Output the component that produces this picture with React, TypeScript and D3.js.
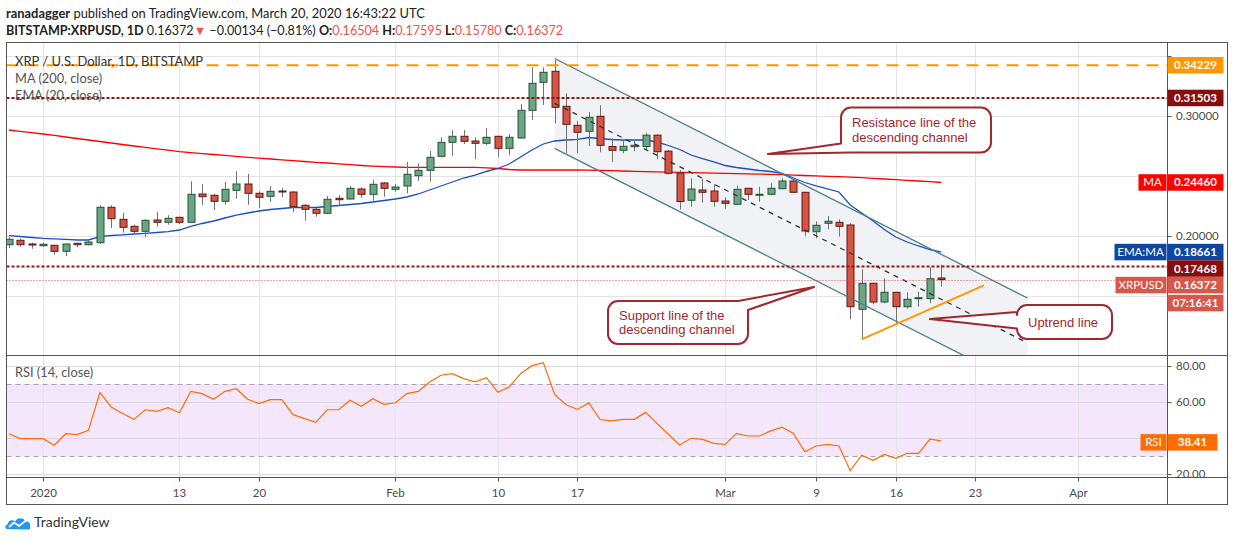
import React from 'react';
import * as d3 from 'd3';

// ---------- DATA ----------
const firstBar = '2019-12-29'; // daily bars, Dec 29 2019 .. Mar 20 2020
const opens = [
  0.19275, 0.19642, 0.19333,
  0.19192, 0.19225, 0.18725, 0.19392, 0.19275, 0.19442, 0.22392, 0.21392, 0.20808, 0.20392,
  0.21333, 0.21142, 0.21558, 0.21142, 0.235, 0.23392, 0.22892, 0.23808, 0.24333, 0.23558,
  0.23308, 0.2375, 0.23667, 0.22558, 0.22225, 0.21892, 0.23142, 0.23083, 0.23917, 0.23475, 0.24417,
  0.23892, 0.24167, 0.25025, 0.25475, 0.26642, 0.27808, 0.28308, 0.27917, 0.27725, 0.28308,
  0.27308, 0.28167, 0.30475, 0.32808, 0.33725, 0.30808, 0.29225, 0.28725, 0.29975, 0.27458,
  0.27142, 0.27442, 0.27458, 0.284, 0.27067, 0.2525, 0.22975, 0.23833, 0.2375,
  0.22917, 0.22642, 0.23975, 0.23442, 0.23475, 0.23942, 0.24583, 0.23642, 0.20358, 0.21058,
  0.21142, 0.20917, 0.13892, 0.16058, 0.145, 0.15308, 0.14108, 0.14808, 0.14775, 0.16504,
];
const highs = [
  0.19892, 0.19775, 0.19442,
  0.19442, 0.19275, 0.19392, 0.19442, 0.19725, 0.22558, 0.22558, 0.21942, 0.20942, 0.21392,
  0.22, 0.21725, 0.21608, 0.24558, 0.24333, 0.235, 0.245, 0.25392, 0.25167, 0.23725,
  0.24167, 0.24, 0.23725, 0.22667, 0.22333, 0.23333, 0.23417, 0.24167, 0.24058, 0.24667, 0.245,
  0.24333, 0.26167, 0.26058, 0.27083, 0.28225, 0.28833, 0.28833, 0.28225, 0.28975, 0.2835,
  0.285, 0.31, 0.34058, 0.34058, 0.34667, 0.31892, 0.29608, 0.30333, 0.30892, 0.28142,
  0.27975, 0.27975, 0.28583, 0.285, 0.27167, 0.255, 0.24808, 0.24775, 0.24308,
  0.23225, 0.24192, 0.24, 0.24108, 0.24392, 0.24808, 0.24725, 0.23667, 0.21225, 0.21667,
  0.21392, 0.21058, 0.17225, 0.16108, 0.16475, 0.1535, 0.15308, 0.15358, 0.17392, 0.17595,
];
const lows = [
  0.19, 0.19108, 0.18942,
  0.19108, 0.18442, 0.18333, 0.19058, 0.19225, 0.19333, 0.20667, 0.20275, 0.20167, 0.19942,
  0.20775, 0.20942, 0.21, 0.211, 0.22558, 0.22167, 0.22608, 0.23108, 0.22608, 0.22333,
  0.22858, 0.23225, 0.22, 0.21275, 0.21608, 0.21833, 0.225, 0.23058, 0.23192, 0.22942, 0.23275,
  0.23692, 0.23558, 0.24583, 0.24525, 0.2655, 0.26692, 0.27667, 0.26392, 0.27558, 0.26608,
  0.26725, 0.281, 0.29667, 0.30917, 0.29392, 0.26892, 0.26892, 0.275, 0.26975, 0.26167,
  0.26892, 0.27058, 0.27208, 0.26392, 0.25125, 0.22208, 0.22442, 0.22775, 0.22442,
  0.22275, 0.22583, 0.23, 0.22858, 0.23392, 0.23892, 0.23558, 0.2, 0.19808, 0.20558,
  0.19942, 0.13058, 0.11392, 0.14308, 0.14392, 0.12775, 0.13942, 0.14108, 0.14392, 0.1578,
];
const closes = [
  0.19725, 0.19275, 0.1925,
  0.19308, 0.18725, 0.19333, 0.19275, 0.195, 0.22392, 0.21442, 0.20725, 0.20392, 0.21308,
  0.21142, 0.21475, 0.21142, 0.23475, 0.23275, 0.22892, 0.23892, 0.24333, 0.23558, 0.23225,
  0.23725, 0.23692, 0.22442, 0.22225, 0.21892, 0.23058, 0.23025, 0.23975, 0.23475, 0.24308, 0.23975,
  0.24083, 0.25142, 0.25475, 0.26558, 0.27808, 0.28308, 0.27892, 0.27725, 0.28225, 0.27308,
  0.28225, 0.30475, 0.32725, 0.33642, 0.30725, 0.29308, 0.28642, 0.29892, 0.27558, 0.27142,
  0.27475, 0.27558, 0.284, 0.27025, 0.25225, 0.22875, 0.23917, 0.23642, 0.22892,
  0.22725, 0.23892, 0.23475, 0.23475, 0.23975, 0.24583, 0.23642, 0.20417, 0.20892, 0.21225,
  0.20808, 0.14108, 0.16058, 0.145, 0.15308, 0.14108, 0.14725, 0.14858, 0.16442, 0.16372,
];
const ema20 = [
  0.20025, 0.19958, 0.19875,
  0.19808, 0.19767, 0.19717, 0.19667, 0.19667, 0.19942, 0.20042, 0.201, 0.20167, 0.20225,
  0.20292, 0.20358, 0.205, 0.20792, 0.21042, 0.2125, 0.215, 0.21733, 0.21917, 0.22083,
  0.22208, 0.22292, 0.22375, 0.22375, 0.22375, 0.22458, 0.22542, 0.22625, 0.22708, 0.22833, 0.22958,
  0.23083, 0.2325, 0.235, 0.23833, 0.24167, 0.245, 0.24833, 0.25083, 0.25375, 0.25625,
  0.26, 0.26583, 0.27167, 0.27667, 0.27917, 0.28, 0.28058, 0.28208, 0.28125, 0.28042,
  0.28, 0.28, 0.28, 0.27833, 0.27542, 0.27208, 0.2675, 0.26458, 0.26167,
  0.25875, 0.25708, 0.25583, 0.25458, 0.25375, 0.25225, 0.24833, 0.24458, 0.24167, 0.23917,
  0.23667, 0.22583, 0.21917, 0.2125, 0.20542, 0.19917, 0.195, 0.19167, 0.18875, 0.18661,
];
const ma200 = [
  0.28834, 0.28725, 0.28609,
  0.285, 0.28384, 0.2825, 0.28125, 0.28, 0.27875, 0.2775, 0.27625, 0.275, 0.27384,
  0.27267, 0.2715, 0.27034, 0.2695, 0.26867, 0.26792, 0.26717, 0.26642, 0.26559, 0.26484,
  0.26417, 0.2635, 0.26275, 0.26209, 0.26142, 0.26084, 0.26017, 0.25942, 0.25875, 0.25817, 0.25775,
  0.2575, 0.25725, 0.25725, 0.25725, 0.25725, 0.25725, 0.25725, 0.25725, 0.25684, 0.25625,
  0.25542, 0.255, 0.255, 0.255, 0.255, 0.255, 0.255, 0.25484, 0.25459, 0.25442,
  0.25417, 0.25392, 0.25367, 0.25342, 0.25325, 0.25309, 0.25284, 0.25267, 0.25242,
  0.25225, 0.252, 0.25175, 0.25159, 0.25134, 0.25109, 0.25075, 0.25042, 0.25009, 0.24975,
  0.24942, 0.24909, 0.24867, 0.24809, 0.2475, 0.247, 0.24642, 0.24584, 0.24525, 0.2446,
];
const rsi14 = [
  42.38, 39.65, 39.65,
  39.65, 35.96, 42.38, 41.89, 44.22, 65.22, 57.25, 53.56, 50.35, 55.69,
  54.82, 56.86, 54.04, 65.9, 64.64, 61.53, 65.9, 67.36, 61.53, 59.1,
  61.33, 61.33, 52.97, 50.74, 48.69, 55.69, 55.69, 60.94, 57.64, 61.82, 58.71,
  59.58, 64.64, 65.9, 71.15, 74.85, 75.72, 73.0, 71.25, 73.49, 65.42,
  68.33, 75.72, 80.19, 81.85, 64.25, 58.51, 55.89, 59.49, 50.25, 49.47,
  50.35, 50.35, 54.24, 48.11, 42.08, 36.15, 39.85, 39.26, 37.03,
  36.45, 42.57, 41.11, 41.11, 43.93, 45.97, 42.57, 32.36, 35.57, 36.45,
  35.57, 21.86, 30.42, 27.6, 30.9, 28.67, 31.49, 31.49, 39.3, 38.41,
];

const priceTicks = [0.15, 0.2, 0.25, 0.3, 0.35];
const rsiTicks = [20, 40, 60, 80];
const tickDates = ['2020-01-01', '2020-01-13', '2020-01-20', '2020-02-01', '2020-02-10', '2020-02-17', '2020-03-01', '2020-03-09', '2020-03-16', '2020-03-23', '2020-04-01'];
const tickLabels = ['2020', '13', '20', 'Feb', '10', '17', 'Mar', '9', '16', '23', 'Apr'];

const athLevel = 0.34229;
const redLevels = [0.31503, 0.17468];
const lastClose = 0.16372;
const maLast = 0.2446;
const emaLast = 0.18661;
const rsiLast = 38.41;

const channelDates = ['2020-02-15T00:00:00Z', '2020-03-27T14:00:00Z'];
const channelUpper = [0.34792, 0.14833];
const channelLower = [0.27308, 0.07349];
const uptrendDates = ['2020-03-13T00:00:00Z', '2020-03-23T18:00:00Z'];
const uptrendPrices = [0.11392, 0.15892];

const calloutTips = [
  { date: '2020-03-04T18:00:00Z', price: 0.26834 }, // resistance
  { date: '2020-03-08T19:30:00Z', price: 0.1575 },  // support
  { date: '2020-03-19T00:00:00Z', price: 0.13084 }, // uptrend
];

// ---------- LAYOUT ----------
const W = 1234, H = 541;
const L = 6.5, PR = 1167.5, RR = 1227.5;
const T = 42.5, PB = 355.5, RB = 477.5, AB = 504.5;
const DAY = 86400000;
const FONT = 'Lato, "Open Sans", sans-serif';
const CALLOUT_FONT = '"Liberation Sans", Arial, sans-serif';

const parse = (s: string) => new Date(s.length === 10 ? s + 'T00:00:00Z' : s);
const base = parse(firstBar).getTime();
const dates = opens.map((_, i) => new Date(base + i * DAY));
const jan1 = parse('2020-01-01').getTime();

const x = d3.scaleUtc().domain([new Date(jan1 - 3.21 * DAY), new Date(jan1 + 98.9 * DAY)]).range([L, PR]);
const y = d3.scaleLinear().domain([0.30 - (PB - 116) / 1200, 0.30 + (116 - T) / 1200]).range([PB, T]);
const yr = d3.scaleLinear().domain([80 - (RB - 366) / 1.8, 80 + (366 - PB) / 1.8]).range([RB, PB]);

const fmt5 = d3.format('.5f');

const UP_FILL = '#6ba583', UP_LINE = '#225437', DN_FILL = '#d75442', DN_LINE = '#5b1a13', WICK = '#737375';
const CALLOUT = '#a3272d';

export default function App() {
  const lineMa = d3.line<number>().x((_, i) => x(dates[i])).y((v) => y(v));
  const lineRsi = d3.line<number>().x((_, i) => x(dates[i])).y((v) => yr(v));

  const cu0: [number, number] = [x(parse(channelDates[0])), y(channelUpper[0])];
  const cu1: [number, number] = [x(parse(channelDates[1])), y(channelUpper[1])];
  const cl0: [number, number] = [x(parse(channelDates[0])), y(channelLower[0])];
  const cl1: [number, number] = [x(parse(channelDates[1])), y(channelLower[1])];
  const cm0: [number, number] = [cu0[0], (cu0[1] + cl0[1]) / 2];
  const cm1: [number, number] = [cu1[0], (cu1[1] + cl1[1]) / 2];

  const ut0 = [x(parse(uptrendDates[0])), y(uptrendPrices[0])];
  const ut1 = [x(parse(uptrendDates[1])), y(uptrendPrices[1])];

  const tips = calloutTips.map((t) => [x(parse(t.date)), y(t.price)] as [number, number]);

  // Callout shapes
  const r = 10;
  const R = { x0: 841, y0: 107.5, x1: 991, y1: 152.5 };
  const resPath = `M${R.x0 + r},${R.y0} H${R.x1 - r} A${r},${r} 0 0 1 ${R.x1},${R.y0 + r} V${R.y1 - r} A${r},${r} 0 0 1 ${R.x1 - r},${R.y1} H${R.x0 + 10} L${tips[0][0]},${tips[0][1]} L${R.x0},${R.y1 - 9} V${R.y0 + r} A${r},${r} 0 0 1 ${R.x0 + r},${R.y0} Z`;
  const S = { x0: 608, y0: 301, x1: 748, y1: 344 };
  const supPath = `M${S.x0 + r},${S.y0} H${S.x1 - 10} L${tips[1][0]},${tips[1][1]} L${S.x1},${S.y0 + 9} V${S.y1 - r} A${r},${r} 0 0 1 ${S.x1 - r},${S.y1} H${S.x0 + r} A${r},${r} 0 0 1 ${S.x0},${S.y1 - r} V${S.y0 + r} A${r},${r} 0 0 1 ${S.x0 + r},${S.y0} Z`;
  const U = { x0: 1017, y0: 305, x1: 1112, y1: 339 };
  const upPath = `M${U.x0 + r},${U.y0} H${U.x1 - r} A${r},${r} 0 0 1 ${U.x1},${U.y0 + r} V${U.y1 - r} A${r},${r} 0 0 1 ${U.x1 - r},${U.y1} H${U.x0 + r} A${r},${r} 0 0 1 ${U.x0},${U.y1 - r} V${U.y1 - 10.5} L${tips[2][0]},${tips[2][1]} L${U.x0},${U.y0 + 7} V${U.y0 + r} A${r},${r} 0 0 1 ${U.x0 + r},${U.y0} Z`;

  // axis labels with push-down
  const BH = 16.5;
  type Lab = { v: number; text: string; color: string; name?: string; nameW?: number };
  const labs: Lab[] = [
    { v: athLevel, text: fmt5(athLevel), color: '#ff9800' },
    { v: redLevels[0], text: fmt5(redLevels[0]), color: '#880e0e' },
    { v: maLast, text: fmt5(maLast), color: '#ff0000', name: 'MA', nameW: 28 },
    { v: emaLast, text: fmt5(emaLast), color: '#0d47a1', name: 'EMA:MA', nameW: 52 },
    { v: redLevels[1], text: fmt5(redLevels[1]), color: '#880e0e' },
    { v: lastClose, text: fmt5(lastClose), color: '#d9574a', name: 'XRPUSD', nameW: 51 },
  ];
  let prevBottom = -Infinity;
  const placed = labs.map((lb) => {
    const top = Math.max(y(lb.v) - BH / 2, prevBottom);
    prevBottom = top + BH;
    return { ...lb, top };
  });
  const cdTop = prevBottom + 1.5;
  const boxes = [...placed.map((p) => [p.top, p.top + BH]), [cdTop, cdTop + BH]];
  // hide axis tick labels that sit mostly under a coloured label (as TradingView does)
  const hidden = (yy: number) => boxes.some(([a, b]) => yy > a - 2 && yy < b + 2);
  const rsiBoxTop = yr(rsiLast) - BH / 2 + 1.5;

  const vx = tickDates.map((d) => Math.round(x(parse(d))) + 0.5);

  return (
    <svg width={W} height={H} style={{ position: 'absolute', left: 0, top: 0, background: '#fff' }} fontFamily={FONT}>
      <defs>
        <clipPath id="cp"><rect x={L} y={T} width={PR - L} height={PB - T} /></clipPath>
        <clipPath id="cr"><rect x={L} y={PB} width={PR - L} height={RB - PB} /></clipPath>
      </defs>
      <rect x={0} y={0} width={W} height={H} fill="#fff" />

      {/* header */}
      <text x={6} y={18} fontSize={12.9} fill="#222">
        <tspan fontWeight="bold">ranadagger</tspan> published on TradingView.com, March 20, 2020 16:43:22 UTC
      </text>
      <text x={6} y={35} fontSize={12.6} fill="#222">
        <tspan fontWeight="bold">BITSTAMP:XRPUSD, 1D</tspan>
        <tspan> 0.16372</tspan>
        <tspan fill="#ef5350">▼</tspan>
        <tspan> −0.00134 (−0.81%) </tspan>
        <tspan fontWeight="bold">O:</tspan><tspan fill="#ef5350">0.16504</tspan>
        <tspan fontWeight="bold"> H:</tspan><tspan fill="#ef5350">0.17595</tspan>
        <tspan fontWeight="bold"> L:</tspan><tspan fill="#ef5350">0.15780</tspan>
        <tspan fontWeight="bold"> C:</tspan><tspan fill="#ef5350">0.16372</tspan>
      </text>

      {/* RSI band */}
      <rect x={L} y={yr(70)} width={PR - L} height={yr(30) - yr(70)} fill="#f4e7fb" />

      {/* grid */}
      <g stroke="#e4e4e4" strokeWidth={1}>
        {vx.map((vv, i) => <line key={'vg' + i} x1={vv} x2={vv} y1={T} y2={RB} />)}
        {priceTicks.map((p) => <line key={'pg' + p} x1={L} x2={PR} y1={Math.round(y(p)) + 0.5} y2={Math.round(y(p)) + 0.5} />)}
        {rsiTicks.map((p) => <line key={'rg' + p} x1={L} x2={PR} y1={Math.round(yr(p)) + 0.5} y2={Math.round(yr(p)) + 0.5} stroke="#dcd6e4" />)}
      </g>
      <g stroke="#a8a2b0" strokeWidth={1} strokeDasharray="5,4">
        <line x1={L} x2={PR} y1={Math.round(yr(70)) + 0.5} y2={Math.round(yr(70)) + 0.5} />
        <line x1={L} x2={PR} y1={Math.round(yr(30)) + 0.5} y2={Math.round(yr(30)) + 0.5} />
      </g>

      <g clipPath="url(#cp)">
        {/* channel fill */}
        <polygon points={[cu0, cu1, cl1, cl0].map((p) => p.join(',')).join(' ')} fill="#f0f2f6" />
        {/* MA and EMA */}
        <path d={lineMa(ma200) || ''} fill="none" stroke="#ff0000" strokeWidth={1.3} />
        <path d={lineMa(ema20) || ''} fill="none" stroke="#1a4fc4" strokeWidth={1.3} />
        {/* candles */}
        {dates.map((d, i) => {
          const cx = Math.round(x(d)) + 0.5;
          const o = opens[i], c = closes[i];
          const up = c >= o;
          const yt = y(Math.max(o, c)), yb = y(Math.min(o, c));
          const h = Math.max(1, yb - yt);
          return (
            <g key={'c' + i}>
              <line x1={cx} x2={cx} y1={y(highs[i])} y2={y(lows[i])} stroke={WICK} strokeWidth={1} />
              <rect x={cx - 3.5} y={yt} width={7} height={h} fill={up ? UP_FILL : DN_FILL} stroke={up ? UP_LINE : DN_LINE} strokeWidth={1} />
            </g>
          );
        })}
        {/* channel lines */}
        <line x1={cu0[0]} y1={cu0[1]} x2={cu1[0]} y2={cu1[1]} stroke="#4a7f85" strokeWidth={1.3} />
        <line x1={cl0[0]} y1={cl0[1]} x2={cl1[0]} y2={cl1[1]} stroke="#4a7f85" strokeWidth={1.3} />
        <line x1={cm0[0]} y1={cm0[1]} x2={cm1[0]} y2={cm1[1]} stroke="#333" strokeWidth={1.3} strokeDasharray="5,5" />
        {/* horizontal levels */}
        <line x1={L} x2={PR} y1={y(athLevel)} y2={y(athLevel)} stroke="#ff9800" strokeWidth={2} strokeDasharray="12,8" />
        {redLevels.map((p) => <line key={'rl' + p} x1={L} x2={PR} y1={y(p)} y2={y(p)} stroke="#9b1212" strokeWidth={2} strokeDasharray="3,2" />)}
        <line x1={L} x2={PR} y1={Math.round(y(lastClose)) + 0.5} y2={Math.round(y(lastClose)) + 0.5} stroke="#d75442" strokeWidth={1} strokeDasharray="1,2" />
        {/* uptrend */}
        <line x1={ut0[0]} y1={ut0[1]} x2={ut1[0]} y2={ut1[1]} stroke="#ff9800" strokeWidth={2} />
        {/* callouts */}
        <g fill="#fff" stroke={CALLOUT} strokeWidth={2} strokeLinejoin="round">
          <path d={resPath} />
          <path d={supPath} />
          <path d={upPath} />
        </g>
        <g fill={CALLOUT} fontSize={13} fontFamily={CALLOUT_FONT}>
          <text x={852} y={127.2}>Resistance line of the</text>
          <text x={852} y={142}>descending channel</text>
          <text x={619} y={319.6}>Support line of the</text>
          <text x={619} y={334.4}>descending channel</text>
          <text x={1028} y={326.5}>Uptrend line</text>
        </g>
      </g>

      {/* RSI line */}
      <g clipPath="url(#cr)">
        <path d={lineRsi(rsi14) || ''} fill="none" stroke="#ff6d00" strokeWidth={1.2} />
      </g>

      {/* legends */}
      <text x={15} y={65.5} fontSize={13} fill="#333">XRP / U.S. Dollar, 1D, BITSTAMP</text>
      <text x={15} y={83} fontSize={12.8} fill="#555">MA (200, close)</text>
      <text x={15} y={99.5} fontSize={12.8} fill="#555">EMA (20, close)</text>
      <text x={15} y={377} fontSize={12.8} fill="#555">RSI (14, close)</text>

      {/* frame */}
      <g stroke="#555" strokeWidth={1} fill="none">
        <rect x={L} y={T} width={RR - L} height={AB - T} />
        <line x1={PR} x2={PR} y1={T} y2={AB} />
        <line x1={L} x2={RR} y1={PB} y2={PB} />
        <line x1={L} x2={RR} y1={RB} y2={RB} />
      </g>

      {/* x axis */}
      {vx.map((vv, i) => (
        <g key={'xt' + i}>
          <line x1={vv} x2={vv} y1={RB} y2={RB + 4} stroke="#555" />
          <text x={vv} y={496.5} fontSize={11.5} fill="#4a4a4a" textAnchor="middle">{tickLabels[i]}</text>
        </g>
      ))}

      {/* price axis */}
      {priceTicks.map((p) => (
        <g key={'pt' + p}>
          <line x1={PR} x2={PR + 4} y1={Math.round(y(p)) + 0.5} y2={Math.round(y(p)) + 0.5} stroke="#555" />
          {!hidden(y(p)) && <text x={1176} y={y(p) + 4} fontSize={11.5} fill="#4a4a4a">{fmt5(p)}</text>}
        </g>
      ))}
      {placed.map((lb, i) => (
        <g key={'lb' + i}>
          <rect x={PR} y={lb.top} width={56} height={BH} fill={lb.color} />
          <text x={PR + 28} y={lb.top + BH / 2 + 4} fontSize={11.5} fontWeight="bold" fill="#fff" textAnchor="middle">{lb.text}</text>
          {lb.name && (
            <g>
              <rect x={PR - 1 - (lb.nameW || 0)} y={lb.top} width={lb.nameW} height={BH} fill={lb.color} />
              <text x={PR - 1 - (lb.nameW || 0) / 2} y={lb.top + BH / 2 + 4} fontSize={11.5} fill="#fff" textAnchor="middle">{lb.name}</text>
            </g>
          )}
        </g>
      ))}
      <rect x={PR} y={cdTop} width={56} height={BH} fill="#d9574a" />
      <text x={PR + 28} y={cdTop + BH / 2 + 4} fontSize={11.5} fontWeight="bold" fill="#fff" textAnchor="middle">07:16:41</text>

      {/* RSI axis */}
      {rsiTicks.map((p) => (
        <g key={'rt' + p}>
          <line x1={PR} x2={PR + 4} y1={Math.round(yr(p)) + 0.5} y2={Math.round(yr(p)) + 0.5} stroke="#555" />
          {!(yr(p) > rsiBoxTop - 2 && yr(p) < rsiBoxTop + BH + 2) && (
            <text x={1176} y={yr(p) + 4} fontSize={11.5} fill="#4a4a4a">{p.toFixed(2)}</text>
          )}
        </g>
      ))}
      <rect x={PR - 27} y={rsiBoxTop} width={26} height={BH} fill="#ff6d00" />
      <text x={PR - 14} y={yr(rsiLast) + 5.5} fontSize={11.5} fill="#fff" textAnchor="middle">RSI</text>
      <rect x={PR} y={rsiBoxTop} width={50} height={BH} fill="#ff6d00" />
      <text x={PR + 25} y={yr(rsiLast) + 5.5} fontSize={11.5} fontWeight="bold" fill="#fff" textAnchor="middle">{rsiLast.toFixed(2)}</text>

      {/* TradingView logo */}
      <g>
        <path d="M7,529 C5,529 4.5,525 7.5,524.5 C8,520 13,519 15,521.5 C17,517 24,517 25.5,521.5 C29,521 31,524 30,526.5 C31,529 29,530 27,529.5 Z" fill="#2196f3" />
        <polyline points="9,527 14,522.5 19,526 26,520.5" fill="none" stroke="#fff" strokeWidth={1.8} strokeLinejoin="round" />
        <text x={34} y={527} fontSize={14} fill="#333">TradingView</text>
      </g>
    </svg>
  );
}
